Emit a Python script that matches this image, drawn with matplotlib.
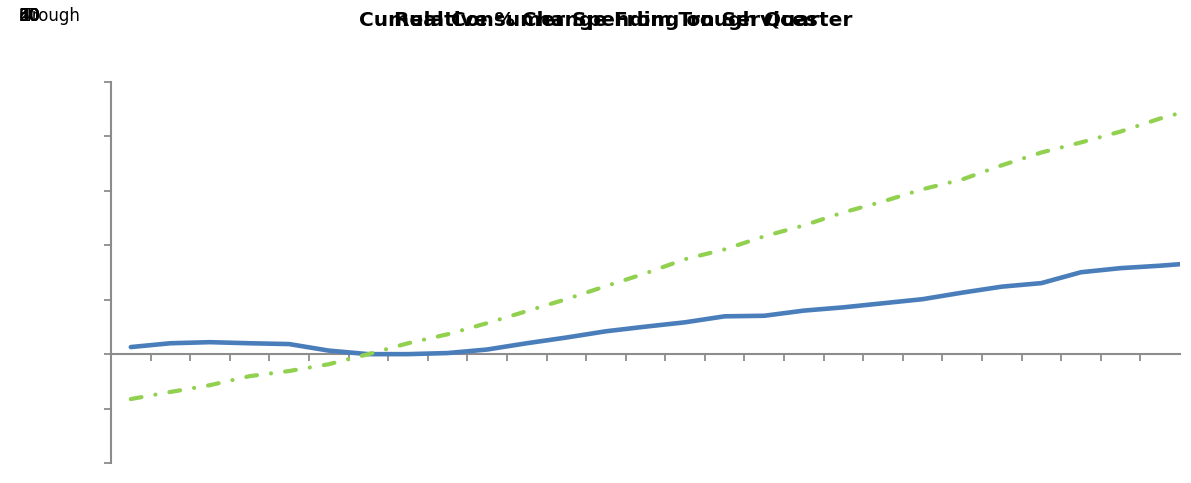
import matplotlib
matplotlib.use("Agg")
import matplotlib.pyplot as plt
import numpy as np

# quarters since trough (category positions), cumulative % change
quarters = list(range(28))
services = [0.26, 0.40, 0.44, 0.40, 0.37, 0.13, 0.00, 0.00, 0.04, 0.17,
            0.40, 0.61, 0.84, 1.01, 1.17, 1.39, 1.41, 1.60, 1.72, 1.87,
            2.02, 2.26, 2.48, 2.61, 3.01, 3.16, 3.25, 3.36]
comparison = [-1.65, -1.39, -1.14, -0.81, -0.62, -0.37, 0.00, 0.40, 0.73, 1.14,
              1.58, 2.02, 2.50, 2.97, 3.49, 3.85, 4.33, 4.73, 5.21, 5.61,
              6.06, 6.42, 6.94, 7.41, 7.78, 8.18, 8.66, 9.06]
y_ticks = [-4, -2, 0, 2, 4, 6, 8, 10]
corner_labels = ["10", "20", "40", "50", "60", "80"]

BLUE = "#4a7ebb"
GREEN = "#92d050"
AXIS = "#8c8c8c"

fig = plt.figure(figsize=(11.91, 4.83), dpi=100)
ax = fig.add_axes([111 / 1191, 1 - 463 / 483, (1180 - 111) / 1191, (463 - 82) / 483])

ax.plot(quarters, services, color=BLUE, lw=3.3, solid_capstyle="round", zorder=3)
ax.plot(quarters, comparison, color=GREEN, lw=3.0, dashes=(2.6, 3.4, 0.01, 3.4),
        dash_capstyle="round", zorder=3)

ax.set_xlim(-0.5, 26.5)
ax.set_ylim(y_ticks[0], y_ticks[-1])

for s in ["top", "right"]:
    ax.spines[s].set_visible(False)
ax.spines["bottom"].set_position(("data", 0))
for s in ["bottom", "left"]:
    ax.spines[s].set_color(AXIS)
    ax.spines[s].set_linewidth(1.5)

ax.set_xticks(np.arange(0.5, 26, 1.0))
ax.set_yticks(y_ticks)
ax.tick_params(axis="both", direction="out", length=5, width=1.3, color=AXIS,
               labelbottom=False, labelleft=False)

# the two titles sit on top of each other in the reference
fig.text(606 / 1191, 1 - 20 / 483, "Cumulative % Change From Trough Quarter",
         ha="center", va="center", fontsize=14.5, fontweight="bold")
fig.text(606 / 1191, 1 - 20 / 483, "Real Consumer Spending on Services",
         ha="center", va="center", fontsize=14.5, fontweight="bold")

fig.text(24 / 1191, 1 - 16 / 483, "Trough", ha="left", va="center", fontsize=12)
for lab in corner_labels:
    fig.text(19 / 1191, 1 - 16 / 483, lab, ha="left", va="center", fontsize=12)

fig.savefig("out.png", dpi=100)
